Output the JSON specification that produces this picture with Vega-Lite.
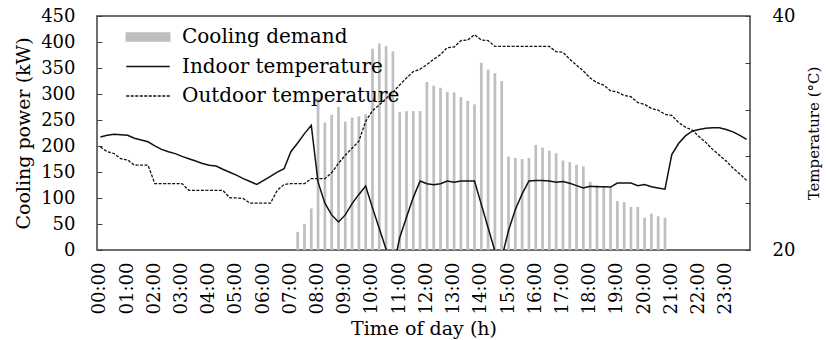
{
  "$schema": "https://vega.github.io/schema/vega-lite/v6.json",
  "width": 653,
  "height": 234,
  "autosize": {"type": "none"},
  "padding": {"left": 97, "top": 16, "right": 76, "bottom": 90},
  "config": {
    "font": "DejaVu Serif",
    "view": {"stroke": "#404040", "strokeWidth": 1.5},
    "axis": {"labelColor": "#000000", "titleColor": "#000000", "labelFont": "DejaVu Serif", "titleFont": "DejaVu Serif", "titleFontWeight": "normal", "grid": false, "domain": false, "labelOverlap": false, "tickColor": "#404040"}
  },
  "data": {"values": [
    {"time":"00:00","demand":null,"indoor":29.66,"outdoor":28.8},
    {"time":"00:15","demand":null,"indoor":29.8,"outdoor":28.4},
    {"time":"00:30","demand":null,"indoor":29.9,"outdoor":28.25},
    {"time":"00:45","demand":null,"indoor":29.85,"outdoor":27.8},
    {"time":"01:00","demand":null,"indoor":29.8,"outdoor":27.7},
    {"time":"01:15","demand":null,"indoor":29.55,"outdoor":27.25},
    {"time":"01:30","demand":null,"indoor":29.4,"outdoor":27.25},
    {"time":"01:45","demand":null,"indoor":29.25,"outdoor":27.25},
    {"time":"02:00","demand":null,"indoor":28.9,"outdoor":25.67},
    {"time":"02:15","demand":null,"indoor":28.6,"outdoor":25.67},
    {"time":"02:30","demand":null,"indoor":28.4,"outdoor":25.67},
    {"time":"02:45","demand":null,"indoor":28.24,"outdoor":25.67},
    {"time":"03:00","demand":null,"indoor":28.0,"outdoor":25.67},
    {"time":"03:15","demand":null,"indoor":27.8,"outdoor":25.1},
    {"time":"03:30","demand":null,"indoor":27.6,"outdoor":25.1},
    {"time":"03:45","demand":null,"indoor":27.4,"outdoor":25.1},
    {"time":"04:00","demand":null,"indoor":27.25,"outdoor":25.1},
    {"time":"04:15","demand":null,"indoor":27.18,"outdoor":25.1},
    {"time":"04:30","demand":null,"indoor":26.9,"outdoor":25.1},
    {"time":"04:45","demand":null,"indoor":26.65,"outdoor":24.47},
    {"time":"05:00","demand":null,"indoor":26.4,"outdoor":24.45},
    {"time":"05:15","demand":null,"indoor":26.1,"outdoor":24.4},
    {"time":"05:30","demand":null,"indoor":25.85,"outdoor":24.0},
    {"time":"05:45","demand":null,"indoor":25.6,"outdoor":24.0},
    {"time":"06:00","demand":null,"indoor":25.95,"outdoor":24.0},
    {"time":"06:15","demand":null,"indoor":26.3,"outdoor":24.0},
    {"time":"06:30","demand":null,"indoor":26.65,"outdoor":25.1},
    {"time":"06:45","demand":null,"indoor":26.95,"outdoor":25.6},
    {"time":"07:00","demand":null,"indoor":28.4,"outdoor":25.67},
    {"time":"07:15","demand":35,"indoor":29.15,"outdoor":25.67},
    {"time":"07:30","demand":50,"indoor":29.95,"outdoor":25.67},
    {"time":"07:45","demand":80,"indoor":30.66,"outdoor":26.1},
    {"time":"08:00","demand":292,"indoor":25.8,"outdoor":26.1},
    {"time":"08:15","demand":245,"indoor":24.0,"outdoor":26.1},
    {"time":"08:30","demand":260,"indoor":23.0,"outdoor":26.6},
    {"time":"08:45","demand":275,"indoor":22.4,"outdoor":27.4},
    {"time":"09:00","demand":247,"indoor":23.0,"outdoor":28.1},
    {"time":"09:15","demand":255,"indoor":23.96,"outdoor":28.7},
    {"time":"09:30","demand":257,"indoor":24.75,"outdoor":29.3},
    {"time":"09:45","demand":261,"indoor":25.46,"outdoor":31.0},
    {"time":"10:00","demand":387,"indoor":23.6,"outdoor":31.9},
    {"time":"10:15","demand":397,"indoor":21.84,"outdoor":32.4},
    {"time":"10:30","demand":392,"indoor":20.06,"outdoor":32.95},
    {"time":"10:45","demand":382,"indoor":18.3,"outdoor":33.5},
    {"time":"11:00","demand":265,"indoor":21.05,"outdoor":34.1},
    {"time":"11:15","demand":267,"indoor":22.8,"outdoor":34.7},
    {"time":"11:30","demand":267,"indoor":24.5,"outdoor":35.25},
    {"time":"11:45","demand":267,"indoor":25.9,"outdoor":35.45},
    {"time":"12:00","demand":323,"indoor":25.67,"outdoor":35.85},
    {"time":"12:15","demand":316,"indoor":25.58,"outdoor":36.3},
    {"time":"12:30","demand":312,"indoor":25.67,"outdoor":36.7},
    {"time":"12:45","demand":304,"indoor":25.9,"outdoor":37.3},
    {"time":"13:00","demand":303,"indoor":25.8,"outdoor":37.35},
    {"time":"13:15","demand":294,"indoor":25.9,"outdoor":37.9},
    {"time":"13:30","demand":287,"indoor":25.9,"outdoor":37.95},
    {"time":"13:45","demand":280,"indoor":25.9,"outdoor":38.4},
    {"time":"14:00","demand":360,"indoor":23.9,"outdoor":37.95},
    {"time":"14:15","demand":347,"indoor":21.9,"outdoor":37.9},
    {"time":"14:30","demand":340,"indoor":19.9,"outdoor":37.4},
    {"time":"14:45","demand":325,"indoor":19.3,"outdoor":37.4},
    {"time":"15:00","demand":180,"indoor":21.67,"outdoor":37.4},
    {"time":"15:15","demand":177,"indoor":23.47,"outdoor":37.4},
    {"time":"15:30","demand":175,"indoor":24.8,"outdoor":37.4},
    {"time":"15:45","demand":177,"indoor":25.9,"outdoor":37.4},
    {"time":"16:00","demand":202,"indoor":25.95,"outdoor":37.4},
    {"time":"16:15","demand":197,"indoor":25.95,"outdoor":37.4},
    {"time":"16:30","demand":191,"indoor":25.9,"outdoor":37.4},
    {"time":"16:45","demand":186,"indoor":25.8,"outdoor":36.95},
    {"time":"17:00","demand":172,"indoor":25.85,"outdoor":36.9},
    {"time":"17:15","demand":169,"indoor":25.7,"outdoor":36.3},
    {"time":"17:30","demand":164,"indoor":25.5,"outdoor":35.8},
    {"time":"17:45","demand":161,"indoor":25.3,"outdoor":35.3},
    {"time":"18:00","demand":131,"indoor":25.45,"outdoor":34.7},
    {"time":"18:15","demand":125,"indoor":25.4,"outdoor":34.3},
    {"time":"18:30","demand":123,"indoor":25.4,"outdoor":34.1},
    {"time":"18:45","demand":122,"indoor":25.38,"outdoor":33.6},
    {"time":"19:00","demand":94,"indoor":25.72,"outdoor":33.5},
    {"time":"19:15","demand":92,"indoor":25.72,"outdoor":33.2},
    {"time":"19:30","demand":83,"indoor":25.72,"outdoor":33.1},
    {"time":"19:45","demand":83,"indoor":25.5,"outdoor":32.6},
    {"time":"20:00","demand":62,"indoor":25.6,"outdoor":32.45},
    {"time":"20:15","demand":70,"indoor":25.4,"outdoor":32.1},
    {"time":"20:30","demand":65,"indoor":25.3,"outdoor":31.95},
    {"time":"20:45","demand":62,"indoor":25.2,"outdoor":31.6},
    {"time":"21:00","demand":null,"indoor":28.15,"outdoor":31.5},
    {"time":"21:15","demand":null,"indoor":29.1,"outdoor":30.9},
    {"time":"21:30","demand":null,"indoor":29.75,"outdoor":30.5},
    {"time":"21:45","demand":null,"indoor":30.15,"outdoor":30.25},
    {"time":"22:00","demand":null,"indoor":30.3,"outdoor":29.7},
    {"time":"22:15","demand":null,"indoor":30.4,"outdoor":29.2},
    {"time":"22:30","demand":null,"indoor":30.45,"outdoor":28.6},
    {"time":"22:45","demand":null,"indoor":30.45,"outdoor":28.1},
    {"time":"23:00","demand":null,"indoor":30.3,"outdoor":27.6},
    {"time":"23:15","demand":null,"indoor":30.1,"outdoor":27.0},
    {"time":"23:30","demand":null,"indoor":29.8,"outdoor":26.5},
    {"time":"23:45","demand":null,"indoor":29.46,"outdoor":25.95}
  ]},
  "layer": [
    {
      "mark": {"type": "bar", "width": {"band": 0.4}},
      "encoding": {
        "x": {"field": "time", "type": "ordinal", "sort": null,
          "scale": {"paddingInner": 0, "paddingOuter": 0,
            "domain": ["00:00","00:15","00:30","00:45","01:00","01:15","01:30","01:45","02:00","02:15","02:30","02:45","03:00","03:15","03:30","03:45","04:00","04:15","04:30","04:45","05:00","05:15","05:30","05:45","06:00","06:15","06:30","06:45","07:00","07:15","07:30","07:45","08:00","08:15","08:30","08:45","09:00","09:15","09:30","09:45","10:00","10:15","10:30","10:45","11:00","11:15","11:30","11:45","12:00","12:15","12:30","12:45","13:00","13:15","13:30","13:45","14:00","14:15","14:30","14:45","15:00","15:15","15:30","15:45","16:00","16:15","16:30","16:45","17:00","17:15","17:30","17:45","18:00","18:15","18:30","18:45","19:00","19:15","19:30","19:45","20:00","20:15","20:30","20:45","21:00","21:15","21:30","21:45","22:00","22:15","22:30","22:45","23:00","23:15","23:30","23:45"]},
          "axis": {"title": "Time of day (h)", "values": ["00:00","01:00","02:00","03:00","04:00","05:00","06:00","07:00","08:00","09:00","10:00","11:00","12:00","13:00","14:00","15:00","16:00","17:00","18:00","19:00","20:00","21:00","22:00","23:00"],
            "ticks": false, "labelAngle": 270, "labelPadding": 12, "labelFontSize": 18, "titleFontSize": 19, "titlePadding": 6}},
        "y": {"field": "demand", "type": "quantitative",
          "scale": {"domain": [0, 450], "nice": false},
          "axis": {"title": "Cooling power (kW)", "values": [0,50,100,150,200,250,300,350,400,450], "tickSize": -5, "labelPadding": 27, "labelFontSize": 18, "titleFontSize": 19, "titlePadding": 7}},
        "color": {"datum": "Cooling demand",
          "scale": {"domain": ["Cooling demand", "Indoor temperature", "Outdoor temperature"], "range": ["#bfbfbf", "#111111", "#111111"]},
          "legend": {"orient": "none", "legendX": 35, "legendY": 5, "title": null, "labelFontSize": 20, "labelFont": "DejaVu Serif", "labelColor": "#000000", "labelLimit": 0,
            "symbolSize": 900, "rowPadding": 3.5, "labelOffset": 18, "padding": 0, "symbolStrokeWidth": 1.5,
            "encode": {"symbols": {"update": {
              "shape": {"signal": "datum.value === 'Cooling demand' ? 'M-1.45,-0.27H1.45V0.27H-1.45Z' : 'M-1.45,0H1.45'"},
              "fill": {"signal": "datum.value === 'Cooling demand' ? '#bfbfbf' : 'transparent'"},
              "stroke": {"signal": "datum.value === 'Cooling demand' ? 'transparent' : '#111111'"},
              "strokeDash": {"signal": "datum.value === 'Outdoor temperature' ? [3, 1.5] : [1, 0]"},
              "strokeWidth": {"value": 1.5},
              "opacity": {"value": 1}
            }}}}
        }
      }
    },
    {
      "layer": [
        {
          "mark": {"type": "line", "clip": true, "strokeWidth": 1.5},
          "encoding": {
            "x": {"field": "time", "type": "ordinal", "sort": null},
            "y": {"field": "indoor", "type": "quantitative",
              "scale": {"domain": [20, 40], "nice": false},
              "axis": {"orient": "right", "title": "Temperature (°C)", "values": [20,22,24,26,28,30,32,34,36,38,40],
                "labelExpr": "datum.value == 20 || datum.value == 40 ? datum.label : ''",
                "tickSize": -5, "labelPadding": 27, "labelFontSize": 18, "titleFontSize": 15, "titleAngle": 270, "titlePadding": 27}},
            "color": {"datum": "Indoor temperature"}
          }
        },
        {
          "mark": {"type": "line", "clip": true, "strokeWidth": 1.3, "strokeDash": [3, 1.5]},
          "encoding": {
            "x": {"field": "time", "type": "ordinal", "sort": null},
            "y": {"field": "outdoor", "type": "quantitative"},
            "color": {"datum": "Outdoor temperature"}
          }
        }
      ]
    }
  ],
  "resolve": {"scale": {"y": "independent"}}
}
